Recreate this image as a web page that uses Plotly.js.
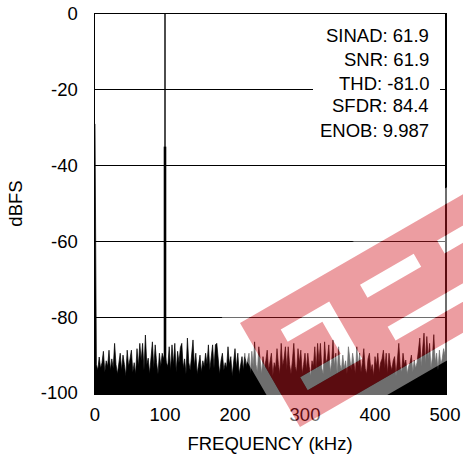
<!DOCTYPE html>
<html><head><meta charset="utf-8">
<script src="https://cdn.plot.ly/plotly-3.0.1.min.js"></script>
<style>html,body{margin:0;padding:0;background:#fff}#chart{width:463px;height:459px}</style>
</head><body><div id="chart"></div>
<script>
// ---- data ----
const binWidthKHz = 2;
const noiseDBFS = [
 -29,-92.5,-94,-90.5,-93.5,-92,-89,-94.5,-91.5,-93,
 -88.7,-94,-91,-93.5,-86.9,-92.5,-95,-91.5,-89.5,-94,
 -90,-92.5,-95.5,-88.7,-93,-91,-88.7,-94.5,-92,-95,
 -88.3,-93,-86.9,-91.5,-86.9,-94,-84.7,-92.5,-90.8,-95,
 -91,-86.5,-93.5,-87.3,-92,-95,-89.5,-93,-89.5,-91,
 -89.5,-92,-93,-87.8,-94,-87.3,-92.5,-86.9,-94.5,-89,
 -92,-88,-86.9,-93.5,-91,-95,-85.5,-92,-94,-90.5,
 -86,-93,-89.5,-95,-92,-90,-94.5,-91.5,-93,-89.5,
 -92.5,-87.3,-94,-91,-87.3,-93.5,-87.3,-86.9,-92,-95,
 -91.5,-89.5,-94,-92,-93.5,-87.8,-92.5,-90.4,-95.5,-92,
 -88.3,-93.5,-89.5,-95,-92.5,-90.4,-94,-89.5,-93,-91.5,
 -89.5,-95,-89,-93,-86.5,-92.5,-94.5,-87.8,-92,-95,
 -90.4,-93.5,-91.5,-88.7,-94,-91,-89.5,-95.5,-92,-93.5,
 -88.3,-92.5,-95,-86.9,-93,-91,-87.8,-94,-87.8,-92.5,
 -95,-91.5,-86.9,-93,-94.5,-88.3,-92,-88.7,-95,-92.5,
 -89.5,-94,-89.5,-93,-95.5,-91.5,-93,-87.8,-94,-86.9,
 -92,-86.9,-93.5,-95,-86.5,-92,-91,-87.3,-94.5,-92,
 -86,-93,-89.5,-95,-87.8,-92.5,-94,-90,-93.5,-91.5,
 -95,-87.8,-92,-94,-89.5,-92.5,-95,-87.8,-93,-89.5,
 -94.5,-92,-88.3,-93.5,-95,-91,-89.5,-94,-92.5,-95.5,
 -90.4,-93,-89.5,-94.5,-92,-91,-88.7,-93.5,-89.5,-95,
 -89.5,-92.5,-94,-91.5,-90.4,-95.5,-92,-86.9,-93,-94.5,
 -89.5,-92.5,-91.3,-95,-93,-92,-90,-94.5,-91.3,-93.5,
 -92,-89,-85.5,-93,-88,-84.2,-92.5,-85.1,-91,-86.9,
 -93.5,-90.5,-84.6,-92,-89.5,-94,-88.7,-92.5,-91,-88.3,
 -90
];
const freqKHz = noiseDBFS.map((_, i) => i * binWidthKHz);
const fundamentalKHz = [100];
const fundamentalDBFS = [0];
const leakageDBFS = [-35];
const floorDBFSLevel = -100;
const xTickVals = [0, 100, 200, 300, 400, 500];
const xTickText = ['0', '100', '200', '300', '400', '500'];
const yTickVals = [-100, -80, -60, -40, -20, 0];
const yTickText = ['-100', '-80', '-60', '-40', '-20', '0'];
const statLabels = ['SINAD', 'SNR', 'THD', 'SFDR', 'ENOB'];
const statValues = ['61.9', '61.9', '-81.0', '84.4', '9.987'];

// ---- layout geometry (pixels) ----
const W = 463, H = 459, M = {l: 95, r: 18, t: 14, b: 66};
const PW = W - M.l - M.r, PH = H - M.t - M.b;
const px2paper = (x, y) => [(x - M.l) / PW, (H - M.b - y) / PH];
const FONT = 'Arial, "Liberation Sans", sans-serif';
const FS = 18.5;

// watermark (rotated logo), drawn as translucent shapes
const WM = {ox: 240, oy: 323, c: Math.cos(Math.PI / 6), s: Math.sin(Math.PI / 6)};
function wmPt(a, b) {
  const x = WM.ox + a * WM.c + b * WM.s;
  const y = WM.oy - a * WM.s + b * WM.c;
  const p = px2paper(x, y);
  return p[0].toFixed(4) + ',' + p[1].toFixed(4);
}
function poly(pts) { return 'M' + pts.map(p => wmPt(p[0], p[1])).join('L') + 'Z'; }
function rect(a0, a1, b0, b1) { return poly([[a0, b0], [a1, b0], [a1, b1], [a0, b1]]); }
const holes = [
  poly([[32, 26], [88, 26], [88, 92], [25, 92], [25, 77], [72, 77], [72, 40], [32, 40]]),
  rect(123, 185, 27, 42),
  rect(212, 280, 27, 42),
  rect(126, 300, 77, 93)
];
const band = rect(0, 420, 0, 120);
const outer = rect(-13, 420, -14, 136);

const shapes = [];
const tb0 = px2paper(313, 20), tb1 = px2paper(440, 140);
shapes.push({type: 'rect', xref: 'paper', yref: 'paper', x0: tb0[0], x1: tb1[0], y0: tb1[1], y1: tb0[1],
  fillcolor: '#ffffff', line: {width: 0}, layer: 'above'});
shapes.push({type: 'path', xref: 'paper', yref: 'paper', path: outer + band + holes.join(''),
  fillcolor: '#ffffff', opacity: 0.43, line: {width: 0}, layer: 'above', fillrule: 'evenodd'});
shapes.push({type: 'path', xref: 'paper', yref: 'paper', path: band + holes.join(''),
  fillcolor: 'rgb(210,28,36)', opacity: 0.43, line: {width: 0}, layer: 'above', fillrule: 'evenodd'});

const statY = [35, 59, 83, 106, 130];
const annotations = statLabels.map((lab, i) => {
  const p = px2paper(431, statY[i]);
  return {xref: 'paper', yref: 'paper', x: p[0], y: p[1], xanchor: 'right', yanchor: 'middle',
    text: lab + ': ' + statValues[i], showarrow: false, font: {family: FONT, size: FS, color: '#000'}};
});

const traces = [
  {x: freqKHz, y: freqKHz.map(() => floorDBFSLevel), type: 'scatter', mode: 'lines',
   line: {width: 0, color: '#000'}, hoverinfo: 'skip', showlegend: false},
  {x: freqKHz, y: noiseDBFS, type: 'scatter', mode: 'lines', fill: 'tonexty',
   fillcolor: '#000', line: {width: 0.7, color: '#000'}, showlegend: false},
  {x: [fundamentalKHz[0], fundamentalKHz[0]], y: [floorDBFSLevel, fundamentalDBFS[0]], type: 'scatter',
   mode: 'lines', line: {width: 1.4, color: '#000'}, showlegend: false},
  {x: [fundamentalKHz[0], fundamentalKHz[0]], y: [floorDBFSLevel, leakageDBFS[0]], type: 'scatter',
   mode: 'lines', line: {width: 2.6, color: '#000'}, showlegend: false}
];

const layout = {
  width: W, height: H, margin: M, paper_bgcolor: '#fff', plot_bgcolor: '#fff',
  font: {family: FONT, size: FS, color: '#000'}, showlegend: false,
  xaxis: {range: [0, 500], tickvals: xTickVals, ticktext: xTickText, ticks: '', showgrid: false, zeroline: false,
    showline: true, mirror: true, linecolor: '#000', linewidth: 1.5, ticklabelstandoff: 4,
    tickfont: {family: FONT, size: FS, color: '#000'},
    title: {text: 'FREQUENCY (kHz)', standoff: 13, font: {family: FONT, size: FS, color: '#000'}}},
  yaxis: {range: [-100, 0], tickvals: yTickVals, ticktext: yTickText, ticks: '', showgrid: true, gridcolor: '#000', gridwidth: 1,
    zeroline: false, showline: true, mirror: true, linecolor: '#000', linewidth: 1.5, ticklabelstandoff: 12,
    tickfont: {family: FONT, size: FS, color: '#000'},
    title: {text: 'dBFS', standoff: 13, font: {family: FONT, size: FS, color: '#000'}}},
  shapes: shapes, annotations: annotations
};
Plotly.newPlot('chart', traces, layout, {displayModeBar: false, staticPlot: true});
</script></body></html>
